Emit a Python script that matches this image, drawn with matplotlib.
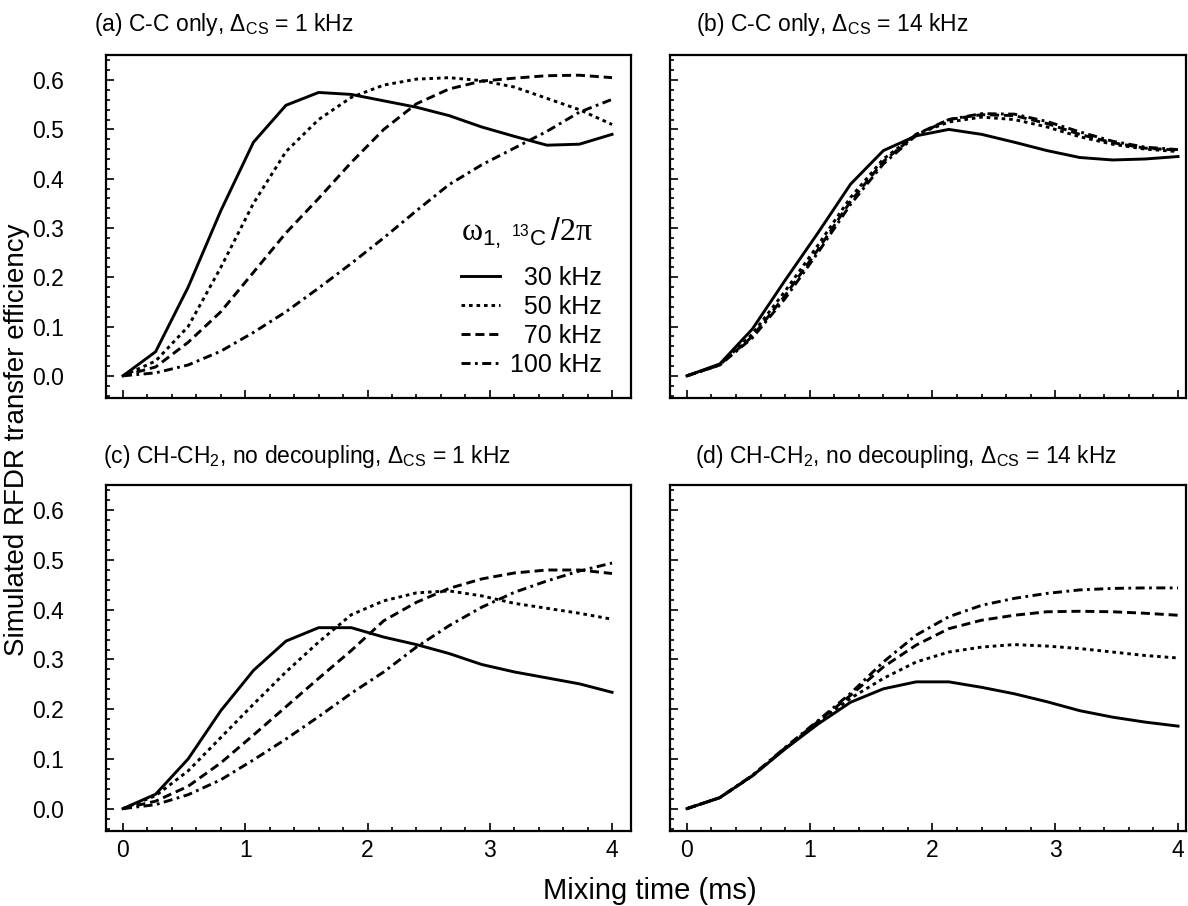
import matplotlib
matplotlib.use("Agg")
import matplotlib.pyplot as plt
from matplotlib.ticker import MultipleLocator, FormatStrFormatter
from matplotlib.lines import Line2D

plt.rcParams['font.family'] = ['Liberation Sans', 'DejaVu Sans']
plt.rcParams['mathtext.fontset'] = 'custom'
plt.rcParams['mathtext.rm'] = 'Liberation Sans'
plt.rcParams['mathtext.it'] = 'Liberation Sans:italic'
plt.rcParams['mathtext.sf'] = 'Liberation Serif'
plt.rcParams['lines.scale_dashes'] = False

# ---------------- data ----------------
t_ms = [0.0, 0.267, 0.533, 0.8, 1.067, 1.333, 1.6, 1.867, 2.133, 2.4,
        2.667, 2.933, 3.2, 3.467, 3.733, 4.0]

series_labels = ['30 kHz', '50 kHz', '70 kHz', '100 kHz']

a30 = [0, 0.049, 0.18, 0.335, 0.474, 0.549, 0.575, 0.571, 0.558, 0.545, 0.528, 0.505, 0.486, 0.468, 0.47, 0.49]
a50 = [0, 0.03, 0.10, 0.22, 0.35, 0.455, 0.52, 0.565, 0.59, 0.602, 0.605, 0.599, 0.586, 0.563, 0.54, 0.51]
a70 = [0, 0.018, 0.068, 0.13, 0.21, 0.29, 0.36, 0.433, 0.5, 0.552, 0.582, 0.598, 0.604, 0.609, 0.61, 0.605]
a100 = [0, 0.006, 0.022, 0.05, 0.088, 0.13, 0.178, 0.228, 0.28, 0.335, 0.388, 0.428, 0.462, 0.496, 0.535, 0.561]

b30 = [0, 0.024, 0.095, 0.194, 0.29, 0.389, 0.457, 0.487, 0.5, 0.49, 0.474, 0.457, 0.443, 0.438, 0.44, 0.445]
b50 = [0, 0.022, 0.085, 0.172, 0.265, 0.362, 0.44, 0.49, 0.515, 0.525, 0.52, 0.505, 0.485, 0.47, 0.46, 0.455]
b70 = [0, 0.022, 0.08, 0.163, 0.256, 0.354, 0.435, 0.49, 0.52, 0.53, 0.528, 0.512, 0.49, 0.473, 0.462, 0.458]
b100 = [0, 0.022, 0.077, 0.157, 0.25, 0.348, 0.43, 0.488, 0.52, 0.532, 0.531, 0.516, 0.495, 0.476, 0.464, 0.459]

c30 = [0, 0.029, 0.1, 0.197, 0.278, 0.337, 0.364, 0.364, 0.345, 0.33, 0.312, 0.29, 0.275, 0.263, 0.251, 0.234]
c50 = [0, 0.026, 0.076, 0.143, 0.21, 0.275, 0.335, 0.39, 0.418, 0.434, 0.438, 0.428, 0.413, 0.403, 0.393, 0.381]
c70 = [0, 0.015, 0.045, 0.092, 0.148, 0.205, 0.262, 0.318, 0.378, 0.415, 0.443, 0.462, 0.474, 0.48, 0.48, 0.473]
c100 = [0, 0.008, 0.028, 0.058, 0.098, 0.14, 0.185, 0.232, 0.275, 0.325, 0.368, 0.405, 0.435, 0.458, 0.478, 0.494]

d30 = [0, 0.022, 0.066, 0.12, 0.17, 0.214, 0.241, 0.255, 0.255, 0.244, 0.231, 0.215, 0.197, 0.184, 0.174, 0.166]
d50 = [0, 0.022, 0.066, 0.121, 0.173, 0.222, 0.262, 0.295, 0.315, 0.325, 0.33, 0.327, 0.322, 0.315, 0.308, 0.303]
d70 = [0, 0.022, 0.066, 0.122, 0.175, 0.228, 0.285, 0.329, 0.362, 0.379, 0.389, 0.396, 0.397, 0.396, 0.393, 0.389]
d100 = [0, 0.022, 0.067, 0.123, 0.177, 0.232, 0.295, 0.349, 0.386, 0.409, 0.423, 0.433, 0.44, 0.443, 0.444, 0.444]

panel_titles = [
    r'(a) C-C only, $\Delta_{\mathrm{CS}}$ = 1 kHz',
    r'(b) C-C only, $\Delta_{\mathrm{CS}}$ = 14 kHz',
    r'(c) CH-CH$_2$, no decoupling, $\Delta_{\mathrm{CS}}$ = 1 kHz',
    r'(d) CH-CH$_2$, no decoupling, $\Delta_{\mathrm{CS}}$ = 14 kHz',
]
panel_data = [[a30, a50, a70, a100], [b30, b50, b70, b100],
              [c30, c50, c70, c100], [d30, d50, d70, d100]]

# ---------------- styles ----------------
LW = 2.1
line_styles = ['-', (0, (2.6, 2.8)), (0, (6.5, 3.5)), (0, (6.5, 3.2, 2.0, 3.2))]

W, H = 1188, 906
fig = plt.figure(figsize=(W / 100, H / 100), dpi=100)


def rect(l, r, t, b):
    return [l / W, 1 - b / H, (r - l) / W, (b - t) / H]


boxes = [rect(106, 631, 55, 398), rect(670, 1186, 55, 398),
         rect(106, 631, 485, 831), rect(670, 1186, 485, 831)]
xlims = [(-0.139, 4.155), (-0.138, 4.065), (-0.139, 4.155), (-0.138, 4.065)]
title_pos = [(94, 25), (696, 25), (103, 456), (695, 456)]

axes = []
for i, (box, data) in enumerate(zip(boxes, panel_data)):
    ax = fig.add_axes(box)
    axes.append(ax)
    for y, ls, lab in zip(data, line_styles, series_labels):
        ax.plot(t_ms, y, color='black', lw=LW, ls=ls, label=lab,
                solid_joinstyle='miter', dash_capstyle='butt')
    ax.set_xlim(*xlims[i])
    ax.set_ylim(-0.045, 0.651)
    ax.xaxis.set_major_locator(MultipleLocator(1))
    ax.xaxis.set_minor_locator(MultipleLocator(0.2))
    ax.yaxis.set_major_locator(MultipleLocator(0.1))
    ax.yaxis.set_minor_locator(MultipleLocator(0.02))
    ax.yaxis.set_major_formatter(FormatStrFormatter('%.1f'))
    ax.tick_params(which='both', direction='in', top=False, right=False,
                   width=1.2, colors='black')
    ax.tick_params(which='major', length=6)
    ax.tick_params(which='minor', length=3)
    ax.tick_params(axis='x', labelsize=16.5, pad=6)
    ax.tick_params(axis='y', labelsize=16.5, pad=30)
    for s in ax.spines.values():
        s.set_linewidth(1.6)
    if i in (0, 1):
        ax.tick_params(axis='x', labelbottom=False)
    if i in (1, 3):
        ax.tick_params(axis='y', labelleft=False)
    fig.text(title_pos[i][0] / W, 1 - title_pos[i][1] / H, panel_titles[i],
             fontsize=16.5, ha='left', va='center')

# axis labels
fig.text(17 / W, 1 - 440 / H, 'Simulated RFDR transfer efficiency',
         rotation=90, ha='center', va='center', fontsize=20)
fig.text(650 / W, 1 - 891 / H, 'Mixing time (ms)', ha='center', va='center',
         fontsize=21)

# legend in panel (a)
ax = axes[0]
fig.text(461 / W, 1 - 233 / H,
         r'$\mathsf{\omega}_{1,\ {}^{13}\mathrm{C}}\,/\mathsf{2\pi}$',
         fontsize=23, ha='left', va='center')
handles = [Line2D([], [], color='black', lw=LW, ls=ls) for ls in line_styles]
labels = ['\u2007' * (7 - len(s)) + s for s in series_labels]
leg = ax.legend(handles, labels, loc='upper left',
                bbox_to_anchor=(461 / W, 1 - 266 / H),
                bbox_transform=fig.transFigure, frameon=False,
                fontsize=18, borderpad=0, borderaxespad=0,
                handlelength=1.55, handletextpad=0.4, labelspacing=0.2)

fig.savefig('out.png', dpi=100)
